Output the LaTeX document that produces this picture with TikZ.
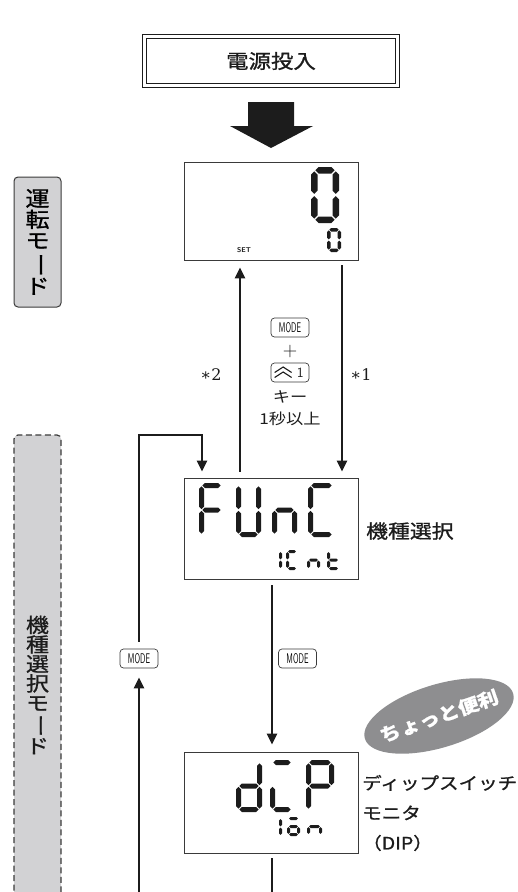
\documentclass[tikz,border=0pt]{standalone}
\usepackage{fontspec}
\newfontfamily\jp{Noto Sans CJK JP}[FakeStretch=1.15, FakeBold=1]
\newfontfamily\jpr{Noto Sans CJK JP}[FakeStretch=1.15]
\newfontfamily\djs{DejaVu Serif}
\usetikzlibrary{arrows.meta,calc,shapes.geometric}
\definecolor{ink}{HTML}{1C1C1C}
\definecolor{lblfill}{HTML}{D2D2D4}
\definecolor{ellfill}{HTML}{8E8E90}
\definecolor{edge}{HTML}{3A3A3A}

\newcommand\hseg[3]{\fill[ink] ({#1},{#3}) -- ({#1+\Th},{#3-\Th}) -- ({#2-\Th},{#3-\Th}) -- ({#2},{#3}) -- ({#2-\Th},{#3+\Th}) -- ({#1+\Th},{#3+\Th}) -- cycle;}
\newcommand\vseg[3]{\fill[ink] ({#1},{#2}) -- ({#1+\Th},{#2+\Th}) -- ({#1+\Th},{#3-\Th}) -- ({#1},{#3}) -- ({#1-\Th},{#3-\Th}) -- ({#1-\Th},{#2+\Th}) -- cycle;}
\newcommand\dsega{\hseg{\Dx+\Th+\G}{\Dx+\Dw-\Th-\G}{\Dy+\Th}}
\newcommand\dsegb{\vseg{\Dx+\Dw-\Th}{\Dy+\Th+\G}{\Dy+\Dh/2-\G}}
\newcommand\dsegc{\vseg{\Dx+\Dw-\Th}{\Dy+\Dh/2+\G}{\Dy+\Dh-\Th-\G}}
\newcommand\dsegd{\hseg{\Dx+\Th+\G}{\Dx+\Dw-\Th-\G}{\Dy+\Dh-\Th}}
\newcommand\dsege{\vseg{\Dx+\Th}{\Dy+\Dh/2+\G}{\Dy+\Dh-\Th-\G}}
\newcommand\dsegf{\vseg{\Dx+\Th}{\Dy+\Th+\G}{\Dy+\Dh/2-\G}}
\newcommand\dsegg{\hseg{\Dx+\Th+\G}{\Dx+\Dw-\Th-\G}{\Dy+\Dh/2}}
\newcommand\lcdchar[6]{\pgfmathsetmacro\Dx{#1}\pgfmathsetmacro\Dy{#2}\pgfmathsetmacro\Dw{#3}\pgfmathsetmacro\Dh{#4}\pgfmathsetmacro\Th{#5/2}\pgfmathsetmacro\G{0.18*#5}\foreach \s in {#6}{\csname dseg\s\endcsname}}

\begin{document}
\begin{tikzpicture}[x=1pt,y=-1pt,
  lcd/.style={draw=edge, line width=0.9pt, minimum width=174pt, minimum height=100pt, inner sep=0pt, fill=white},
  keybox/.style={draw=edge, line width=0.7pt, rounded corners=3.5pt, minimum width=38pt, minimum height=19pt, inner sep=0pt, fill=white, font=\fontsize{14}{14}\sffamily},
  conn/.style={line width=2.5pt, draw=ink},
  arr/.style={conn, -{Triangle[width=10pt,length=11pt]}},
  modebox/.style={draw=edge, line width=1pt, rounded corners=4pt, fill=lblfill, minimum width=47pt, inner sep=0pt, align=center},
  jptext/.style={text=ink, inner sep=0pt}
]
\useasboundingbox (0,0) rectangle (518,892);

% mode labels on the left
\node[modebox, minimum height=130pt, font=\fontsize{21}{21}\jp] (rmode) at (37.5,242) {運\\転\\モ\\\rotatebox[origin=c]{-90}{ー}\\ド};
\fill[lblfill] (14,900) -- (14,439) to[out=90,in=180] (18,435) -- (57,435) to[out=0,in=90] (61,439) -- (61,900) -- cycle;
\draw[edge, line width=1.2pt, dash pattern=on 6pt off 3.5pt] (14,900) -- (14,439) to[out=90,in=180] (18,435) -- (57,435) to[out=0,in=90] (61,439) -- (61,900);
\node[jptext, align=center, font=\fontsize{20}{19.5}\jp] (kmode) at (37.5,685) {機\\種\\選\\択\\モ\\\rotatebox[origin=c]{-90}{ー}\\ド};

% power on box
\node[draw=ink, double, double distance=2.6pt, line width=1.1pt, minimum width=253pt, minimum height=49pt, inner sep=0pt, font=\fontsize{19.5}{19.5}\jp, text=ink] (power) at (271,61) {電源投入};
\fill[ink] (248,102) -- (294,102) -- (294,126) -- (313,126) -- (271,148) -- (230,126) -- (248,126) -- cycle;

% LCD 1
\node[lcd, minimum height=98pt] (lcd1) at (271,211) {};
\lcdchar{311}{167}{28}{56}{6.5}{a,b,c,d,e,f}
\lcdchar{327}{228}{14}{24}{3.5}{a,b,c,d,e,f}
\node[font=\fontsize{7}{7}\sffamily\bfseries, text=ink, inner sep=0pt] (setl) at (244,250) {SET};

% FUNC
\node[lcd, minimum height=101pt] (func) at (271,528.5) {};
\lcdchar{199}{483}{25}{54}{5}{a,e,f,g}
\lcdchar{236}{483}{25}{54}{5}{b,c,d,e,f}
\lcdchar{272}{483}{25}{54}{5}{c,e,g}
\lcdchar{308}{483}{27}{54}{5}{a,d,e,f}
\lcdchar{276}{550}{6}{20}{3}{b,c}
\lcdchar{286}{550}{12}{20}{3}{a,d,e,f}
\lcdchar{307}{550}{13}{20}{3}{c,e,g}
\lcdchar{327}{550}{13}{20}{3}{d,e,f,g}
\node[jptext, anchor=west, font=\fontsize{19}{19}\jp] (kisyu) at (366,531) {機種選択};

% dIP
\node[lcd, minimum height=101pt] (dcp) at (271,802.5) {};
\lcdchar{236}{760}{26}{52}{5}{b,c,d,e,g}
\lcdchar{270}{760}{24}{52}{5}{a,d,e}
\lcdchar{306}{760}{28}{52}{5}{a,b,e,f,g}
\lcdchar{276}{817}{6}{20}{3}{b,c}
\lcdchar{287}{817}{13}{19}{3}{a,c,d,e,g}
\lcdchar{307}{817}{15}{19}{3}{c,e,g}
\node[jptext, anchor=west, align=left, font=\fontsize{17}{30}\jp] (dipl) at (362,813) {ディップスイッチ\\モニタ\\（DIP）};

% badge
\node[ellipse, fill=ellfill, minimum width=155pt, minimum height=63pt, inner sep=0pt, rotate=17] (badge) at (439,716) {};
\node[rotate=19, text=white, inner sep=0pt, font=\fontsize{18}{18}\jp\bfseries] (badget) at (badge.center) {ちょっと便利};

% key labels
\node[keybox] (k1) at (290,327.5) {\scalebox{0.55}[1]{MODE}};
\node[jptext, font=\fontsize{20}{20}\selectfont] (plus) at (290,352) {+};
\node[keybox] (k2) at (290,372.5) {};
\draw[ink, line width=1.1pt] ($(k2.west)+(4,0)$) -- ($(k2.west)+(12.5,-5.5)$) -- ($(k2.west)+(21,0)$);
\draw[ink, line width=1.1pt] ($(k2.west)+(4,5)$) -- ($(k2.west)+(12.5,-0.5)$) -- ($(k2.west)+(21,5)$);
\node[jptext, font=\fontsize{14}{14}\sffamily] (k2one) at ($(k2.east)+(-9,0)$) {1};
\node[jptext, font=\fontsize{15}{15}\jpr] (kiy) at (290,397) {キー};
\node[jptext, font=\fontsize{15}{15}\jpr] (sec) at (290,419) {1秒以上};
\node[jptext, font=\fontsize{16}{16}\djs] (s2) at (211,375) {∗2};
\node[jptext, font=\fontsize{16}{16}\djs] (s1) at (361,375) {∗1};
\node[keybox] (ml) at (139,658.5) {\scalebox{0.55}[1]{MODE}};
\node[keybox] (mm) at (297.5,658.5) {\scalebox{0.55}[1]{MODE}};

% connectors
\draw[arr, shorten <=6pt, shorten >=7pt] ([xshift=-31pt]func.north) -- ([xshift=-31pt]lcd1.south);
\draw[arr, shorten <=5pt, shorten >=6pt] ([xshift=71pt]lcd1.south) -- ([xshift=71pt]func.north);
\coordinate (lc) at (139,435);
\draw[arr, shorten >=6pt] ([yshift=7pt]ml.north) -- (lc) -| ([xshift=-69pt]func.north);
\coordinate (lb) at (139,892);
\draw[arr, shorten >=9pt] (lb) -- (ml.south);
\draw[arr, shorten <=6pt, shorten >=7pt] ([xshift=1pt]func.south) -- ([xshift=1pt]dcp.north);
\coordinate (mb) at (272,892);
\draw[conn, shorten <=5pt] ([xshift=1pt]dcp.south) -- (mb);
\end{tikzpicture}
\end{document}
